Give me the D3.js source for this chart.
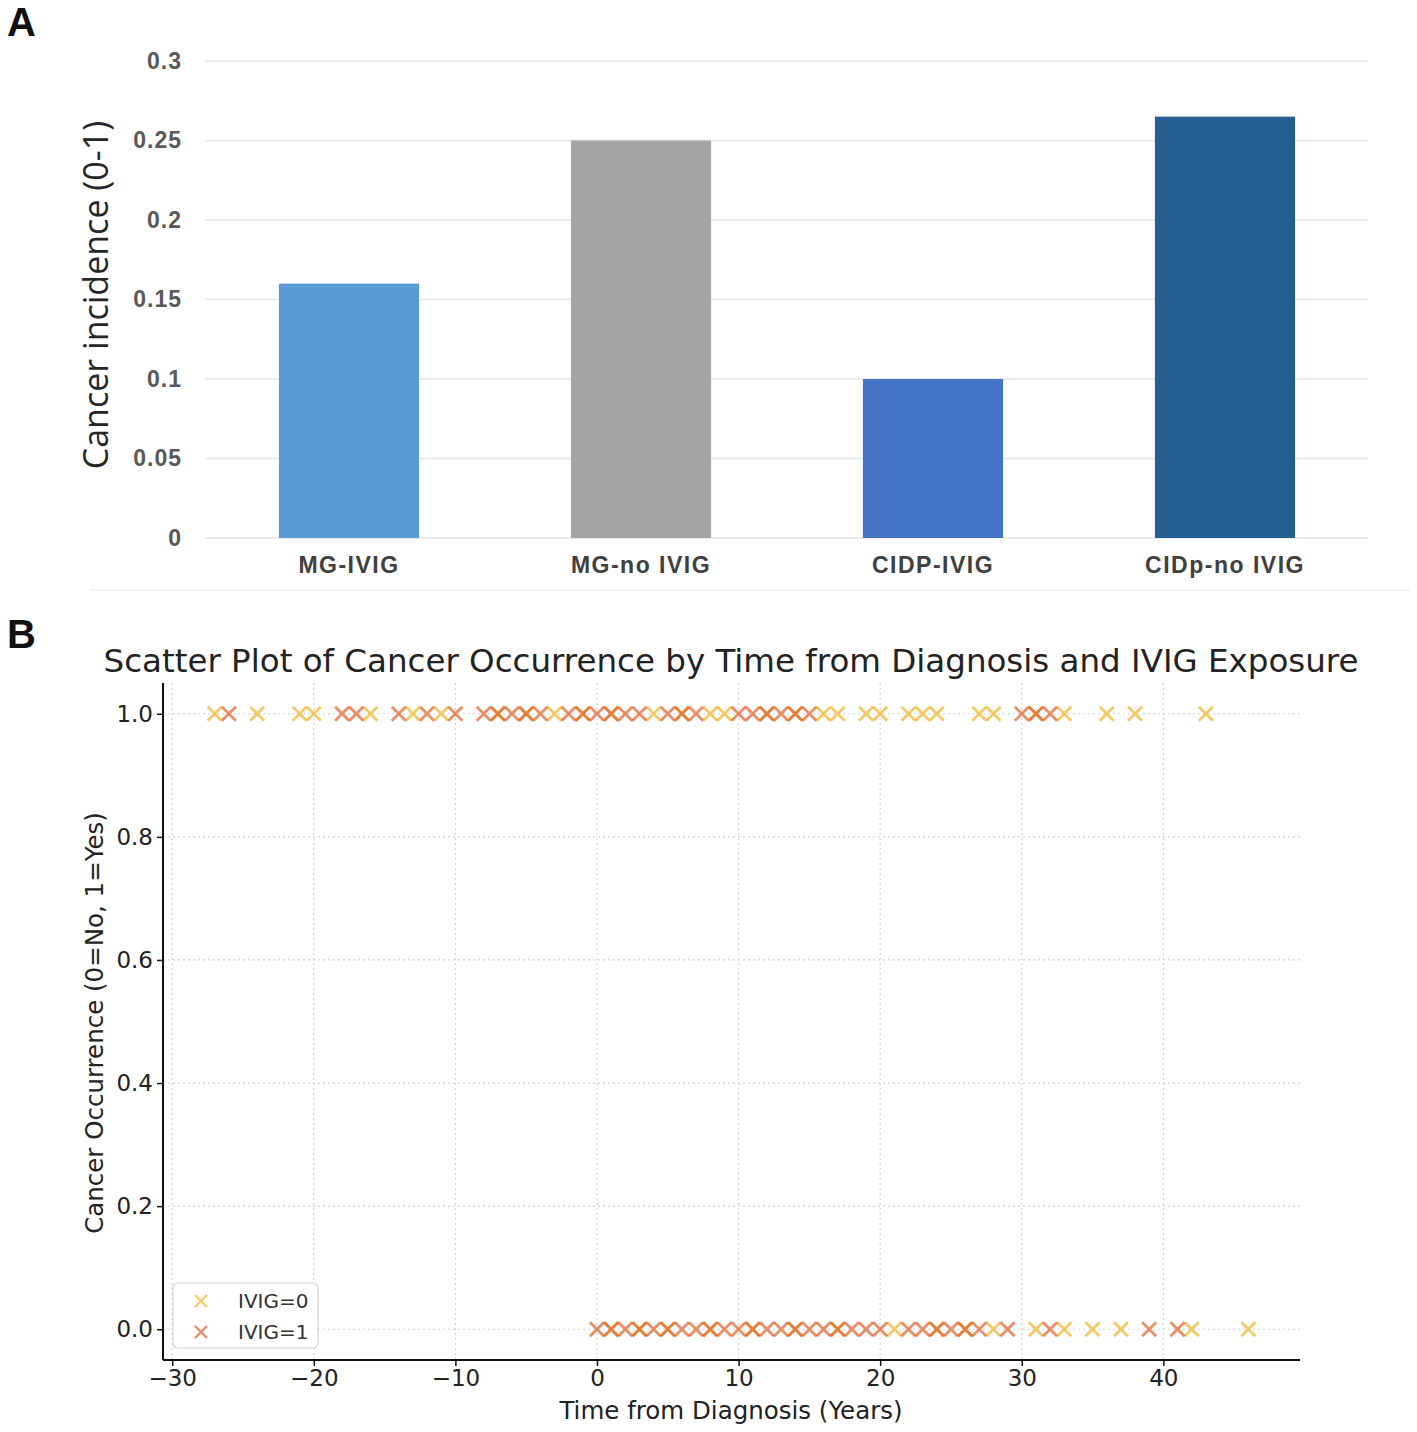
<!DOCTYPE html>
<html>
<head>
<meta charset="utf-8">
<script src="https://cdn.jsdelivr.net/npm/d3@7"></script>
<style>
  body { margin: 0; background: #fff; }
  svg { display: block; }
</style>
</head>
<body>
<svg></svg>
<script>
// Panel A: bar chart data
const categories = ["MG-IVIG", "MG-no IVIG", "CIDP-IVIG", "CIDp-no IVIG"]
const incidence = [0.16, 0.25, 0.10, 0.265]
const barColors = ["#5B9BD5", "#A5A5A5", "#4472C4", "#255E91"]
const incidenceTicks = [0, 0.05, 0.1, 0.15, 0.2, 0.25, 0.3]
const incidenceTickLabels = ["0", "0.05", "0.1", "0.15", "0.2", "0.25", "0.3"]

// Panel B: years from diagnosis, split by IVIG exposure and cancer (1 = yes, 0 = no)
const ivig0Cancer1 = [-27, -24, -21, -20, -16, -13, -11, -7, -5, -3, -1, 1, 4, 6, 8, 9, 12, 14, 16, 17, 19, 20, 22, 23, 24, 27, 28, 31, 33, 36, 38, 43]
const ivig1Cancer1 = [-26, -18, -17, -14, -12, -10, -8, -7, -6, -5, -4, -2, -1, 0, 1, 2, 3, 5, 6, 7, 10, 11, 12, 13, 14, 15, 30, 31, 32]
const ivig0Cancer0 = [1, 3, 5, 8, 11, 14, 17, 21, 24, 26, 28, 31, 33, 35, 37, 42, 46]
const ivig1Cancer0 = [0, 1, 2, 3, 4, 5, 6, 7, 8, 9, 10, 11, 12, 13, 14, 15, 16, 17, 18, 19, 20, 22, 23, 24, 25, 26, 27, 29, 32, 39, 41]
const timeTicks = [-30, -20, -10, 0, 10, 20, 30, 40]
const occurrenceTicks = [0, 0.2, 0.4, 0.6, 0.8, 1.0]
const groupNames = ["IVIG=0", "IVIG=1"]
const groupColors = ["#EDB120", "#DD5A22"]

const svg = d3.select("svg")
    .attr("width", 1417)
    .attr("height", 1432)

svg.append("rect")
    .attr("width", 1417)
    .attr("height", 1432)
    .attr("fill", "#fff")

// ---------- Panel A ----------
const panelA = svg.append("g")

panelA.append("text")
    .attr("x", 7)
    .attr("y", 36)
    .attr("font-family", "Liberation Sans, Arial, sans-serif")
    .attr("font-weight", "bold")
    .attr("font-size", 40)
    .attr("fill", "#111")
    .text("A")

const xA = d3.scaleBand()
    .domain(categories)
    .range([203, 1371])
    .paddingInner(0.52)
    .paddingOuter(0.26)

const yA = d3.scaleLinear()
    .domain([0, 0.3])
    .range([538, 61])

panelA.selectAll("line.grid")
    .data(incidenceTicks)
    .enter()
    .append("line")
    .attr("class", "grid")
    .attr("x1", 205)
    .attr("x2", 1368)
    .attr("y1", d => yA(d))
    .attr("y2", d => yA(d))
    .attr("stroke", "#e6e6e6")
    .attr("stroke-width", 1.5)

panelA.selectAll("rect.bar")
    .data(categories)
    .enter()
    .append("rect")
    .attr("class", "bar")
    .attr("x", d => xA(d))
    .attr("width", xA.bandwidth())
    .attr("y", (d, i) => yA(incidence[i]))
    .attr("height", (d, i) => yA(0) - yA(incidence[i]))
    .attr("fill", (d, i) => barColors[i])

const axisA = panelA.append("g")
    .attr("transform", "translate(205,0)")
    .call(d3.axisLeft(yA)
        .tickValues(incidenceTicks)
        .tickFormat((d, i) => incidenceTickLabels[i])
        .tickSize(0)
        .tickPadding(23))
axisA.select(".domain").remove()
axisA.selectAll("text")
    .attr("font-family", "Liberation Sans, Arial, sans-serif")
    .attr("font-weight", "bold")
    .attr("font-size", 23)
    .attr("letter-spacing", 1)
    .attr("fill", "#595959")

const catAxis = panelA.append("g")
    .attr("transform", "translate(0,538)")
    .call(d3.axisBottom(xA).tickSize(0).tickPadding(19))
catAxis.select(".domain").remove()
catAxis.selectAll("text")
    .attr("font-family", "Liberation Sans, Arial, sans-serif")
    .attr("font-weight", "bold")
    .attr("font-size", 23)
    .attr("letter-spacing", 1.5)
    .attr("fill", "#404040")

panelA.append("text")
    .attr("transform", "translate(108,295) rotate(-90)")
    .attr("text-anchor", "middle")
    .attr("font-family", "Open Sans, Liberation Sans, sans-serif")
    .attr("font-size", 34)
    .attr("fill", "#262626")
    .text("Cancer incidence (0-1)")

panelA.append("line")
    .attr("x1", 90)
    .attr("x2", 1410)
    .attr("y1", 590)
    .attr("y2", 590)
    .attr("stroke", "#ececec")
    .attr("stroke-width", 1.5)

// ---------- Panel B ----------
const panelB = svg.append("g")
const fontB = "DejaVu Sans, sans-serif"

panelB.append("text")
    .attr("x", 7)
    .attr("y", 648)
    .attr("font-family", "Liberation Sans, Arial, sans-serif")
    .attr("font-weight", "bold")
    .attr("font-size", 40)
    .attr("fill", "#111")
    .text("B")

const points = []
ivig0Cancer1.forEach(t => points.push({ t: t, c: 1, g: 0 }))
ivig0Cancer0.forEach(t => points.push({ t: t, c: 0, g: 0 }))
ivig1Cancer1.forEach(t => points.push({ t: t, c: 1, g: 1 }))
ivig1Cancer0.forEach(t => points.push({ t: t, c: 0, g: 1 }))

// matplotlib-style 5% margins
const tExtent = d3.extent(points, d => d.t)
const tPad = (tExtent[1] - tExtent[0]) * 0.05

const xB = d3.scaleLinear()
    .domain([tExtent[0] - tPad, tExtent[1] + tPad])
    .range([163, 1300])

const yB = d3.scaleLinear()
    .domain([-0.05, 1.05])
    .range([1360, 683])

panelB.selectAll("line.vgrid")
    .data(timeTicks)
    .enter()
    .append("line")
    .attr("x1", d => xB(d))
    .attr("x2", d => xB(d))
    .attr("y1", 683)
    .attr("y2", 1360)
    .attr("stroke", "#d2d2d2")
    .attr("stroke-width", 1.2)
    .attr("stroke-dasharray", "2,3")

panelB.selectAll("line.hgrid")
    .data(occurrenceTicks)
    .enter()
    .append("line")
    .attr("x1", 163)
    .attr("x2", 1300)
    .attr("y1", d => yB(d))
    .attr("y2", d => yB(d))
    .attr("stroke", "#d2d2d2")
    .attr("stroke-width", 1.2)
    .attr("stroke-dasharray", "2,3")

const crossPath = function(s) {
    return `M${-s},${-s}L${s},${s}M${-s},${s}L${s},${-s}`
}

panelB.selectAll("path.pt")
    .data(points)
    .enter()
    .append("path")
    .attr("class", "pt")
    .attr("transform", d => `translate(${xB(d.t)},${yB(d.c)})`)
    .attr("d", crossPath(7))
    .attr("fill", "none")
    .attr("stroke", d => groupColors[d.g])
    .attr("stroke-width", 2.8)
    .attr("stroke-opacity", 0.68)

const xAxisB = panelB.append("g")
    .attr("transform", "translate(0,1360)")
    .call(d3.axisBottom(xB)
        .tickValues(timeTicks)
        .tickFormat(d => d < 0 ? "\u2212" + Math.abs(d) : d)
        .tickSize(6)
        .tickPadding(4))

const yAxisB = panelB.append("g")
    .attr("transform", "translate(163,0)")
    .call(d3.axisLeft(yB)
        .tickValues(occurrenceTicks)
        .tickFormat(d3.format(".1f"))
        .tickSize(6)
        .tickPadding(4))

;[xAxisB, yAxisB].forEach(ax => {
    ax.select(".domain").attr("stroke", "#111").attr("stroke-width", 2)
    ax.selectAll(".tick line").attr("stroke", "#111").attr("stroke-width", 1.5)
    ax.selectAll("text")
        .attr("font-family", fontB)
        .attr("font-size", 23)
        .attr("fill", "#222")
})
// keep the spine ends flush (no outer tick caps)
xAxisB.select(".domain").attr("d", `M163,0H1300`)
yAxisB.select(".domain").attr("d", `M0,683V1360`)

panelB.append("text")
    .attr("x", 731)
    .attr("y", 672)
    .attr("text-anchor", "middle")
    .attr("font-family", fontB)
    .attr("font-size", 32.5)
    .attr("fill", "#222")
    .text("Scatter Plot of Cancer Occurrence by Time from Diagnosis and IVIG Exposure")

panelB.append("text")
    .attr("x", 731)
    .attr("y", 1419)
    .attr("text-anchor", "middle")
    .attr("font-family", fontB)
    .attr("font-size", 24.5)
    .attr("fill", "#222")
    .text("Time from Diagnosis (Years)")

panelB.append("text")
    .attr("transform", "translate(103,1023) rotate(-90)")
    .attr("text-anchor", "middle")
    .attr("font-family", fontB)
    .attr("font-size", 24.5)
    .attr("fill", "#222")
    .text("Cancer Occurrence (0=No, 1=Yes)")

// legend
const legend = panelB.append("g")
    .attr("transform", "translate(173,1283)")

legend.append("rect")
    .attr("width", 145)
    .attr("height", 65)
    .attr("rx", 5)
    .attr("fill", "#fff")
    .attr("fill-opacity", 0.85)
    .attr("stroke", "#d6d6d6")
    .attr("stroke-width", 1.2)

const legendItems = legend.selectAll("g.item")
    .data(groupNames)
    .enter()
    .append("g")
    .attr("class", "item")
    .attr("transform", (d, i) => `translate(28,${18 + i * 31})`)

legendItems.append("path")
    .attr("d", crossPath(6))
    .attr("fill", "none")
    .attr("stroke", (d, i) => groupColors[i])
    .attr("stroke-width", 2.4)
    .attr("stroke-opacity", 0.68)

legendItems.append("text")
    .attr("x", 37)
    .attr("y", 7)
    .attr("font-family", fontB)
    .attr("font-size", 20)
    .attr("fill", "#333")
    .text(d => d)
</script>
</body>
</html>
